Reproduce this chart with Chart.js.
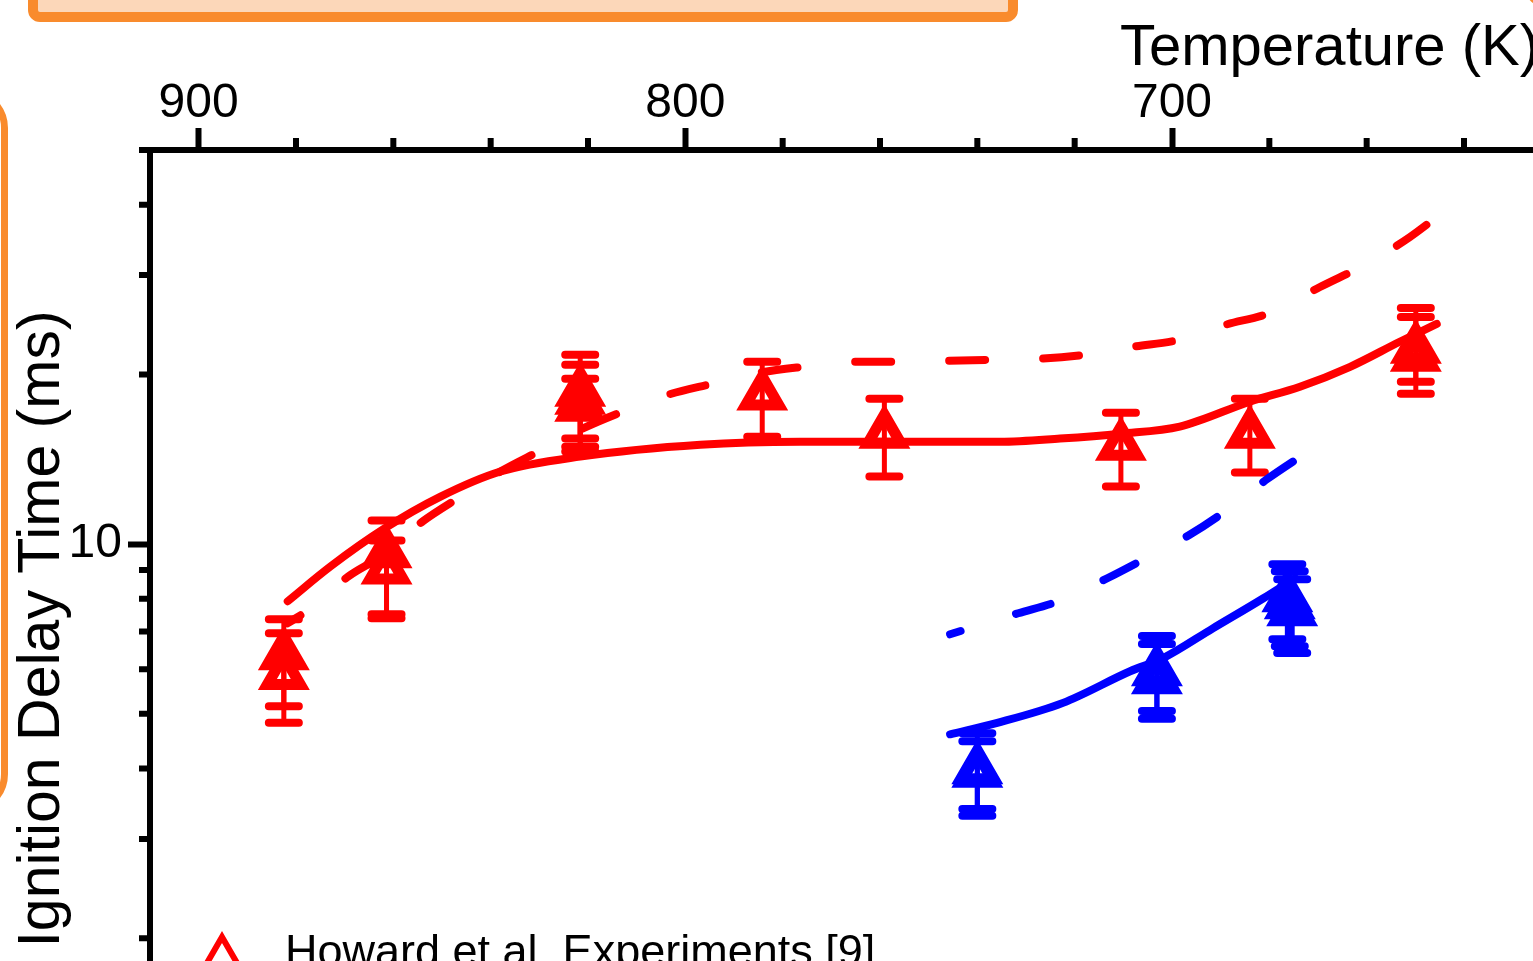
<!DOCTYPE html>
<html>
<head>
<meta charset="utf-8">
<script src="https://cdn.jsdelivr.net/npm/chart.js@4.4.0/dist/chart.umd.min.js"></script>
<style>
  html, body { margin: 0; padding: 0; background: #fff; overflow: hidden; width: 1533px; height: 961px; }
  #wrap { position: absolute; left: 0; top: 0; width: 1567px; height: 1138px; }
  .deco { position: absolute; box-sizing: border-box; border-style: solid; border-color: #F98B2D; }
</style>
</head>
<body>
<div class="deco" style="left:28px; top:-70px; width:990px; height:92px; border-width:10px; border-radius:12px; background:#FCD7B9;"></div>
<div class="deco" style="left:-100px; top:88px; width:108px; height:726px; border-width:7px; border-radius:40px;"></div>
<div class="deco" style="left:1522px; top:-50px; width:150px; height:60px; border-width:6px; border-radius:30px;"></div>
<div id="wrap"><canvas id="chart"></canvas></div>
<script>
// axis ticks
const xTickValues = [900, 880, 860, 840, 820, 800, 780, 760, 740, 720, 700, 680, 660, 640];
const xLabelValues = [900, 800, 700];
const yTickValues = [1, 2, 3, 4, 5, 6, 7, 8, 9, 10, 20, 30, 40, 50];
const yLabelValues = [1, 10];

// Howard et al. experiments (red = higher pressure set, blue = lower)
const redT = [882.5, 882.5, 861.4, 861.4, 821.6, 821.6, 821.6, 784.2, 759.1, 710.5, 684.0, 649.9, 649.9];
const redTau = [6.35, 5.86, 9.63, 9.02, 18.63, 18.04, 17.53, 18.34, 15.70, 14.95, 15.70, 22.20, 21.49];
const redLow = [5.16, 4.82, 7.51, 7.39, 15.39, 14.59, 14.89, 15.51, 13.18, 12.65, 13.40, 19.41, 18.48];
const redHigh = [7.36, 6.95, 11.01, 10.15, 21.67, 20.80, 19.65, 21.05, 18.11, 17.10, 18.11, 26.23, 25.28];

const blueT = [740.0, 740.0, 703.1, 703.1, 676.3, 675.8, 675.3];
const blueTau = [3.99, 3.93, 5.95, 5.76, 8.05, 7.82, 7.60];
const blueLow = [3.39, 3.30, 5.06, 4.90, 6.78, 6.59, 6.41];
const blueHigh = [4.62, 4.47, 6.87, 6.65, 9.21, 8.95, 8.66];

// model curves
const redSolidT = [881.7, 872.9, 861.8, 850.3, 838.0, 821.6, 796.9, 776.4, 755.9, 735.3, 723.0, 710.5, 698.4, 684.0, 673.7, 663.4, 653.2, 645.6];
const redSolidTau = [7.92, 9.13, 10.66, 12.14, 13.45, 14.30, 15.01, 15.19, 15.19, 15.19, 15.39, 15.70, 16.16, 17.89, 19.02, 20.63, 22.85, 24.58];
const redDashT = [881.7, 877.0, 869.2, 862.6, 854.0, 846.2, 838.0, 829.8, 821.6, 812.9, 803.5, 794.5, 786.0, 775.8, 765.7, 756.3, 746.6, 737.0, 727.1, 717.9, 708.0, 698.4, 689.1, 679.9, 669.6, 659.3, 651.1, 645.6];
const redDashTau = [7.24, 7.69, 8.77, 9.51, 10.97, 12.14, 13.45, 14.65, 15.96, 17.18, 18.41, 19.25, 20.05, 20.63, 21.06, 21.06, 21.14, 21.23, 21.32, 21.67, 22.39, 23.04, 24.48, 25.71, 28.58, 31.65, 35.05, 38.02];
const blueSolidT = [745.6, 735.9, 722.4, 708.6, 701.8, 691.6, 681.3, 674.7];
const blueSolidTau = [4.60, 4.82, 5.23, 5.95, 6.28, 7.09, 8.01, 8.70];
const blueDashT = [745.6, 731.6, 723.4, 713.3, 705.5, 696.3, 689.1, 680.3, 672.7];
const blueDashTau = [6.92, 7.54, 7.92, 8.70, 9.43, 10.40, 11.43, 13.07, 14.47];

const RED = '#FF0000';
const BLUE = '#0000FF';
const FONT = "'Liberation Sans', Arial, sans-serif";
const TRI = { pointStyle: 'triangle', radius: 19, borderWidth: 11, rotation: 0 };

const pts = (xs, ys) => xs.map((v, i) => ({ x: v, y: ys[i] }));

const expt = (label, xs, ys, lo, hi, color) => ({
  type: 'scatter', label, data: pts(xs, ys), errLow: lo, errHigh: hi,
  borderColor: color, backgroundColor: 'rgba(0,0,0,0)',
  pointBorderColor: color, pointBackgroundColor: 'rgba(0,0,0,0)',
  pointStyle: 'triangle', pointRadius: TRI.radius, pointHoverRadius: TRI.radius, pointBorderWidth: TRI.borderWidth
});
const model = (label, xs, ys, color, dash, offset) => ({
  type: 'line', label, data: pts(xs, ys), borderColor: color, borderWidth: 8,
  borderDash: dash, borderDashOffset: offset, borderCapStyle: 'round', borderJoinStyle: 'round',
  pointRadius: 0, cubicInterpolationMode: 'monotone', fill: false
});

// error bars under the symbols
const errorBars = {
  id: 'errorBars',
  beforeDatasetsDraw(chart) {
    const { ctx, scales: { x, y } } = chart;
    chart.data.datasets.forEach(ds => {
      if (!ds.errLow) return;
      ctx.save();
      ctx.strokeStyle = ds.borderColor;
      ctx.lineCap = 'round';
      ds.data.forEach((p, j) => {
        const px = x.getPixelForValue(p.x);
        const yl = y.getPixelForValue(ds.errLow[j]);
        const yh = y.getPixelForValue(ds.errHigh[j]);
        ctx.lineWidth = 5;
        ctx.beginPath(); ctx.moveTo(px, yl); ctx.lineTo(px, yh); ctx.stroke();
        ctx.lineWidth = 8;
        ctx.beginPath();
        ctx.moveTo(px - 15, yl); ctx.lineTo(px + 15, yl);
        ctx.moveTo(px - 15, yh); ctx.lineTo(px + 15, yh);
        ctx.stroke();
      });
      ctx.restore();
    });
  }
};

// short minor ticks, top axis title and the legend entry
const extras = {
  id: 'extras',
  afterDraw(chart) {
    const { ctx, chartArea, scales: { x, y } } = chart;
    ctx.save();
    ctx.strokeStyle = '#000';
    ctx.lineWidth = 6;
    ctx.beginPath();
    x.ticks.forEach(t => {
      if (xLabelValues.includes(t.value)) return;
      const px = x.getPixelForValue(t.value);
      ctx.moveTo(px, chartArea.top); ctx.lineTo(px, chartArea.top - 12);
    });
    y.ticks.forEach(t => {
      if (t.value === 10) return;
      const py = y.getPixelForValue(t.value);
      ctx.moveTo(chartArea.left, py); ctx.lineTo(chartArea.left - 11, py);
    });
    ctx.stroke();

    ctx.fillStyle = '#000';
    ctx.font = '58px ' + FONT;
    ctx.textAlign = 'right';
    ctx.textBaseline = 'alphabetic';
    ctx.fillText('Temperature (K)', chartArea.right + 2, 65);

    const ds = chart.data.datasets[0];
    ctx.strokeStyle = ds.borderColor;
    ctx.fillStyle = 'rgba(0,0,0,0)';
    Chart.helpers.drawPoint(ctx, { pointStyle: 'triangle', radius: 18, borderWidth: 9, rotation: 0 }, chartArea.left + 72, 955);
    ctx.fillStyle = '#000';
    ctx.font = '45px ' + FONT;
    ctx.textAlign = 'left';
    ctx.fillText(ds.label, chartArea.left + 135, 966);
    ctx.restore();
  }
};

new Chart(document.getElementById('chart'), {
  data: {
    datasets: [
      expt('Howard et al. Experiments [9]', redT, redTau, redLow, redHigh, RED),
      expt('Howard et al. Experiments [9] ', blueT, blueTau, blueLow, blueHigh, BLUE),
      model('Model', redSolidT, redSolidTau, RED, [], 0),
      model('Model (dashed)', redDashT, redDashTau, RED, [36, 58], 21),
      model('Model low P', blueSolidT, blueSolidTau, BLUE, [], 0),
      model('Model low P (dashed)', blueDashT, blueDashTau, BLUE, [36, 58], 25)
    ]
  },
  options: {
    responsive: true,
    maintainAspectRatio: false,
    animation: false,
    layout: { padding: { left: 0, top: 0, right: 22, bottom: 25 } },
    plugins: { legend: { display: false }, tooltip: { enabled: false } },
    scales: {
      x: {
        type: 'linear', position: 'top', reverse: true, min: 625, max: 910,
        afterBuildTicks: s => { s.ticks = xTickValues.map(v => ({ value: v })); },
        afterFit: s => { s.height = 150; },
        border: { display: true, color: '#000', width: 6 },
        grid: {
          drawOnChartArea: false, drawTicks: true, tickLength: 22, tickWidth: 6,
          tickColor: c => xLabelValues.includes(c.tick && c.tick.value) ? '#000' : 'rgba(0,0,0,0)'
        },
        ticks: {
          autoSkip: false, maxRotation: 0, padding: 0, color: '#000',
          font: { family: FONT, size: 48, lineHeight: 1 },
          callback: v => xLabelValues.includes(v) ? String(v) : ''
        },
        title: { display: false }
      },
      y: {
        type: 'logarithmic', position: 'left', min: 1, max: 50,
        afterBuildTicks: s => { s.ticks = yTickValues.map(v => ({ value: v })); },
        afterFit: s => { s.width = 150; },
        border: { display: true, color: '#000', width: 6 },
        grid: {
          drawOnChartArea: false, drawTicks: true, tickLength: 22, tickWidth: 6,
          tickColor: c => (c.tick && c.tick.value === 10) ? '#000' : 'rgba(0,0,0,0)'
        },
        ticks: {
          autoSkip: false, padding: 6, color: '#000',
          font: { family: FONT, size: 48, lineHeight: 1 },
          callback: v => yLabelValues.includes(v) ? String(v) : ''
        },
        title: {
          display: true, text: 'Ignition Delay Time (ms)', color: '#000',
          font: { family: FONT, size: 59, lineHeight: 1 }, padding: { top: 13, bottom: 0 }
        }
      }
    }
  },
  plugins: [errorBars, extras]
});
</script>
</body>
</html>
